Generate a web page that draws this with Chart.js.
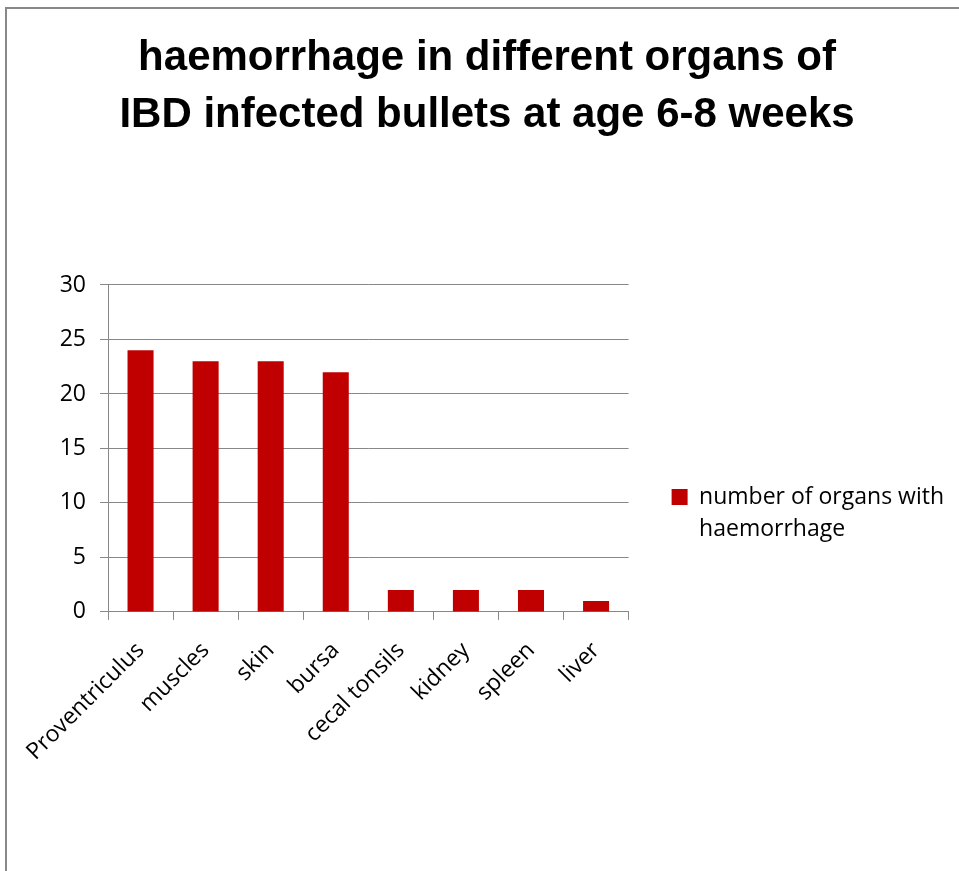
<!DOCTYPE html>
<html>
<head>
<meta charset="utf-8">
<script src="https://cdn.jsdelivr.net/npm/chart.js@4/dist/chart.umd.min.js"></script>
<style>
	body { margin: 0; overflow: hidden; background: #fff; }
	#moldura {
		position: absolute; left: 5px; top: 7px;
		width: 960px; height: 862px;
		border-left: 2px solid #888; border-top: 2px solid #888;
		overflow: hidden;
	}
</style>
</head>
<body>
<div id="moldura"><canvas id="graficoHemorragia" width="960" height="862"></canvas></div>
<script>
var orgaos = ['Proventriculus', 'muscles', 'skin', 'bursa', 'cecal tonsils', 'kidney', 'spleen', 'liver'];
var numeroComHemorragia = [24, 23, 23, 22, 2, 2, 2, 1];
var rotuloSerie = ['number of organs with', 'haemorrhage'];
var tituloLinhas = ['haemorrhage in different organs of', 'IBD infected bullets at age 6-8 weeks'];

var Grafico = Grafico || {};

Grafico.Hemorragia = (function() {

	function Hemorragia() {
		this.ctx = document.getElementById('graficoHemorragia').getContext('2d');
	}

	Hemorragia.prototype.iniciar = function() {
		var fonteTexto = { family: '"Open Sans", sans-serif', size: 23 };

		new Chart(this.ctx, {
			type: 'bar',
			data: {
				labels: orgaos,
				datasets: [{
					label: rotuloSerie.join(' '),
					backgroundColor: '#c00000',
					data: numeroComHemorragia,
					barPercentage: 0.4,
					categoryPercentage: 1
				}]
			},
			options: {
				responsive: false,
				animation: false,
				layout: { padding: { left: 13, right: 13, top: 0, bottom: 88 } },
				plugins: {
					tooltip: { enabled: false },
					title: {
						display: true,
						text: tituloLinhas,
						color: '#000',
						font: { family: '"Liberation Sans", sans-serif', size: 42, weight: 'bold', lineHeight: 1.357 },
						padding: { top: 21, bottom: 141 }
					},
					legend: {
						position: 'right',
						maxWidth: 400,
						// titulo vazio so para empurrar a legenda para baixo
						title: { display: true, text: '', font: { size: 10, lineHeight: 1 }, padding: { top: 233, bottom: 0 } },
						labels: {
							color: '#000',
							font: { family: '"Open Sans", sans-serif', size: 23, lineHeight: 1.39 },
							boxWidth: 16,
							boxHeight: 16,
							padding: 43,
							generateLabels: function(chart) {
								var itens = Chart.defaults.plugins.legend.labels.generateLabels(chart);
								itens.forEach(function(item) { item.text = rotuloSerie; item.lineWidth = 0; });
								return itens;
							}
						}
					}
				},
				scales: {
					x: {
						grid: { display: true, drawOnChartArea: false, offset: true, tickLength: 8, color: '#888' },
						border: { color: '#888' },
						ticks: { color: '#000', font: fonteTexto, minRotation: 45, maxRotation: 45, padding: 17 }
					},
					y: {
						min: 0,
						max: 30,
						afterFit: function(eixo) { eixo.width = 88; },
						grid: { color: '#888', tickLength: 8 },
						border: { color: '#888' },
						ticks: { stepSize: 5, color: '#000', font: fonteTexto, padding: 14 }
					}
				}
			}
		});
	}

	return Hemorragia;

}());

var grafico = new Grafico.Hemorragia();
grafico.iniciar();
</script>
</body>
</html>
